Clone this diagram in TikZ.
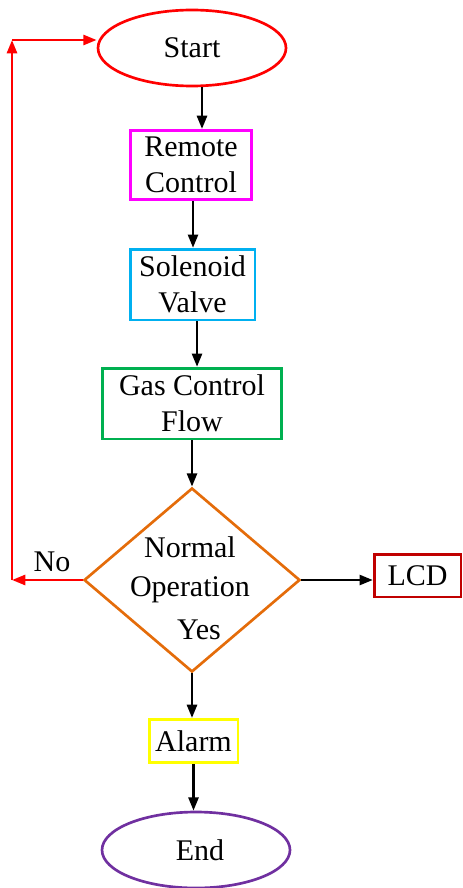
\documentclass[tikz,border=0pt]{standalone}
\usepackage{fontspec}
\setmainfont{Liberation Serif}
\usetikzlibrary{shapes.geometric, arrows.meta, positioning, calc}
\definecolor{startred}{RGB}{255, 0, 0}
\definecolor{remotepink}{RGB}{255, 0, 255}
\definecolor{valveblue}{RGB}{0, 176, 240}
\definecolor{gasgreen}{RGB}{0, 176, 80}
\definecolor{deciorange}{RGB}{228, 108, 10}
\definecolor{lcdred}{RGB}{192, 0, 0}
\definecolor{alarmyellow}{RGB}{255, 255, 0}
\definecolor{endpurple}{RGB}{112, 48, 160}

\begin{document}
\begin{tikzpicture}[
  x=0.75pt, y=-0.75pt,
  term/.style={draw, ellipse, line width=2pt, inner sep=0pt, minimum width=141pt, minimum height=57pt, font=\fontsize{22.5}{27}\selectfont},
  proc/.style={draw, rectangle, line width=2pt, inner sep=0pt, align=center, font=\fontsize{22.5}{27}\selectfont},
  deci/.style={draw, diamond, line width=2pt, inner sep=0pt, minimum width=162pt, minimum height=138pt},
  lbl/.style={inner sep=0pt, align=center, font=\fontsize{22.5}{29}\selectfont},
  arr/.style={-{Triangle[length=10pt, width=7.5pt]}, line width=2pt}
]
  \useasboundingbox (0,0) rectangle (463,888);

  \node[term, startred] (start) at (192,48) {\textcolor{black}{Start}};
  \node[proc, remotepink, minimum width=90.5pt, minimum height=52pt] (remote) at (191,165) {\textcolor{black}{Remote}\\\textcolor{black}{Control}};
  \node[proc, valveblue, minimum width=93.5pt, minimum height=53pt] (valve) at (192.5,284.5) {\textcolor{black}{Solenoid}\\\textcolor{black}{Valve}};
  \node[proc, gasgreen, minimum width=134.5pt, minimum height=53pt] (gas) at (192,403.5) {\textcolor{black}{Gas Control}\\\textcolor{black}{Flow}};
  \node[deci, deciorange] (normal) at (192,580) {};
  \node[lbl] (normaltext) at (190,570) {Normal\\Operation};
  \node[lbl] (yes) at (199,630) {Yes};
  \node[proc, lcdred, minimum width=65pt, minimum height=32pt] (lcd) at (417.5,575.5) {\textcolor{black}{LCD}};
  \node[proc, alarmyellow, minimum width=66.5pt, minimum height=32.5pt] (alarm) at (193.5,741) {\textcolor{black}{Alarm}};
  \node[term, endpurple] (end) at (196,850) {\textcolor{black}{\hspace{6pt}End}};
  \node[lbl] (no) at (52,562) {No};

  \coordinate (noturn) at (12,580);
  \coordinate (upturn) at (12,40);

  \draw[arr] ([xshift=7.5pt]start.south) -- ([xshift=7.5pt]start.south |- remote.north);
  \draw[arr] ([xshift=1.5pt]remote.south) -- ([xshift=1.5pt]remote.south |- valve.north);
  \draw[arr] ([xshift=3.4pt]valve.south) -- ([xshift=3.4pt]valve.south |- gas.north);
  \draw[arr] (gas.south) -- (normal.north);
  \draw[arr] (normal.east) -- (lcd.west |- normal.east);
  \draw[arr] (normal.south) -- (normal.south |- alarm.north);
  \draw[arr] (alarm.south) -- (alarm.south |- end.north);

  \draw[arr, startred] (normal.west) -- (noturn);
  \draw[arr, startred] (noturn) -- (upturn);
  \draw[arr, startred] (upturn) -- (upturn -| start.west);
\end{tikzpicture}
\end{document}
